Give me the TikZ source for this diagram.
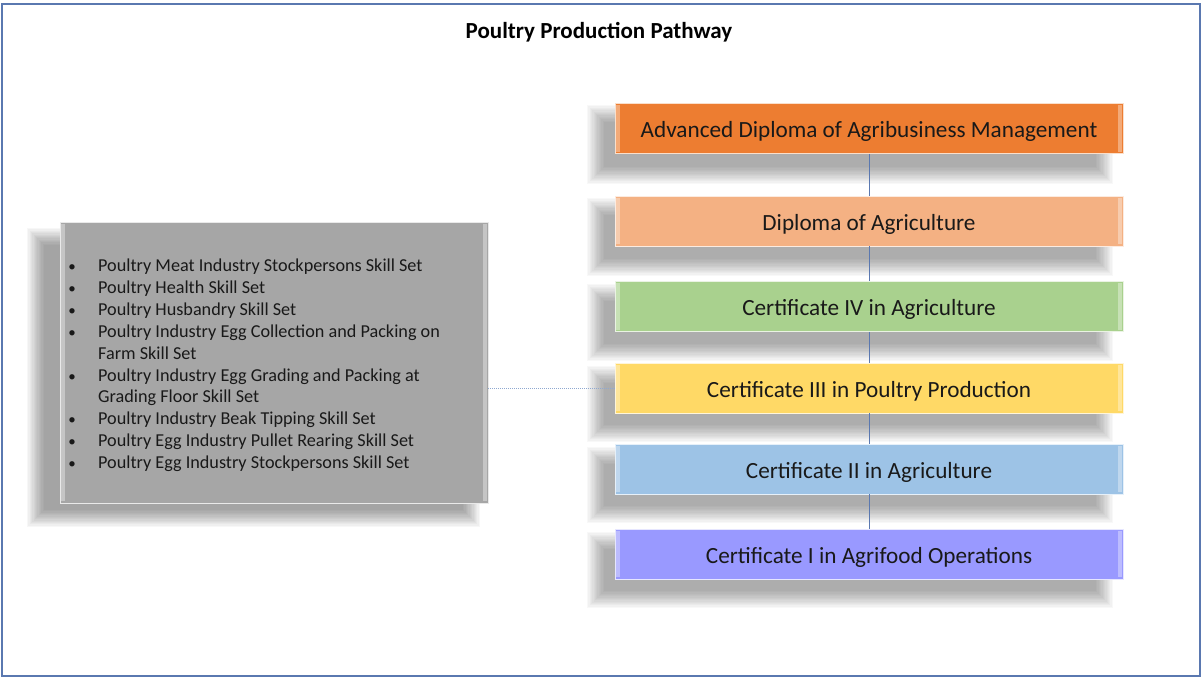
\documentclass[tikz,border=0pt]{standalone}
\usepackage{fontspec}
\setmainfont{Carlito}
\begin{document}
\begin{tikzpicture}[x=1pt,y=-1pt,
  lvl/.style={draw=white!75!#1, line width=0.8pt, fill=#1, minimum width=508pt, minimum height=50pt, inner sep=0pt, text height=18pt, text depth=0pt, font=\fontsize{23.2}{27}\selectfont, text=black!90},
  item/.style={anchor=base west, inner sep=0pt, font=\fontsize{18.2}{22}\selectfont, text=black!90},
  bul/.style={anchor=base, inner sep=0pt, font=\fontsize{15}{19}\selectfont, text=black!90},
  link/.style={draw=frameblue, line width=0.7pt},
]
\definecolor{frameblue}{HTML}{5A78B0}
\definecolor{dotblue}{HTML}{8FA8D0}
\definecolor{cOrange}{HTML}{ED7D31}
\definecolor{cPeach}{HTML}{F4B183}
\definecolor{cGreen}{HTML}{A9D18E}
\definecolor{cYellow}{HTML}{FFD966}
\definecolor{cBlue}{HTML}{9DC3E6}
\definecolor{cViolet}{HTML}{9999FF}
\definecolor{cGray}{HTML}{A6A6A6}
\useasboundingbox (0,0) rectangle (1202,678);
\draw[draw=frameblue, line width=1.2pt] (2,4) rectangle (1200,676);
% shadows
\foreach \ya/\yb in {102/155,195/247,281/332,363/413,444/494,529/579}{
  \foreach \k in {0,...,13}{
    \fill[black, opacity=0.028] (587+\k*1.3,\ya+3+\k*1.3) rectangle (1113-\k*1.3,\yb+29-\k*1.3);
  }
}
\foreach \k in {0,...,13}{
  \fill[black, opacity=0.03] (27+\k*1.3,228+\k*1.3) rectangle (480-\k*1.3,527-\k*1.3);
}
% title
\node[font=\fontsize{23}{27}\selectfont\bfseries, inner sep=0pt, text height=16pt, text depth=0pt] (title) at (599,30) {Poultry Production Pathway};
% level boxes
\node[lvl=cOrange] (adv) at (869,128.5) {Advanced Diploma of Agribusiness Management};
\node[lvl=cPeach] (dip) at (869,221) {Diploma of Agriculture};
\node[lvl=cGreen] (c4) at (869,306.5) {Certificate IV in Agriculture};
\node[lvl=cYellow] (c3) at (869,388) {Certificate III in Poultry Production};
\node[lvl=cBlue] (c2) at (869,469) {Certificate II in Agriculture};
\node[lvl=cViolet] (c1) at (869,554) {Certificate I in Agrifood Operations};
% bevel highlights
\foreach \n in {adv,dip,c4,c3,c2,c1}{
  \fill[white, opacity=0.35] ([xshift=1pt,yshift=-2pt]\n.north west) rectangle ([xshift=5pt,yshift=2pt]\n.south west);
  \fill[white, opacity=0.35] ([xshift=-5pt,yshift=-2pt]\n.north east) rectangle ([xshift=-1pt,yshift=2pt]\n.south east);
}
% skill set box
\node[draw=white!75!cGray, line width=0.8pt, fill=cGray, minimum width=428pt, minimum height=281pt, inner sep=0pt] (skills) at (274,362.5) {};
\fill[white, opacity=0.35] ([xshift=1pt,yshift=-2pt]skills.north west) rectangle ([xshift=5pt,yshift=2pt]skills.south west);
\fill[white, opacity=0.35] ([xshift=-5pt,yshift=-2pt]skills.north east) rectangle ([xshift=-1pt,yshift=2pt]skills.south east);
% list
\foreach \t [count=\i] in {Poultry Meat Industry Stockpersons Skill Set,Poultry Health Skill Set,Poultry Husbandry Skill Set,Poultry Industry Egg Collection and Packing on,Farm Skill Set,Poultry Industry Egg Grading and Packing at,Grading Floor Skill Set,Poultry Industry Beak Tipping Skill Set,Poultry Egg Industry Pullet Rearing Skill Set,Poultry Egg Industry Stockpersons Skill Set}{
  \node[item] (it\i) at (98,{271.5+(\i-1)*21.9}) {\t};
}
\foreach \i in {1,2,3,4,6,8,9,10}{
  \node[bul] (b\i) at (72,{271.5+(\i-1)*21.9}) {•};
}
% connectors
\draw[link] (adv.south) -- (dip.north);
\draw[link] (dip.south) -- (c4.north);
\draw[link] (c4.south) -- (c3.north);
\draw[link] (c3.south) -- (c2.north);
\draw[link] (c2.south) -- (c1.north);
\draw[draw=dotblue, densely dotted, line width=1pt] (skills.east |- c3.west) -- (c3.west);
\end{tikzpicture}
\end{document}
